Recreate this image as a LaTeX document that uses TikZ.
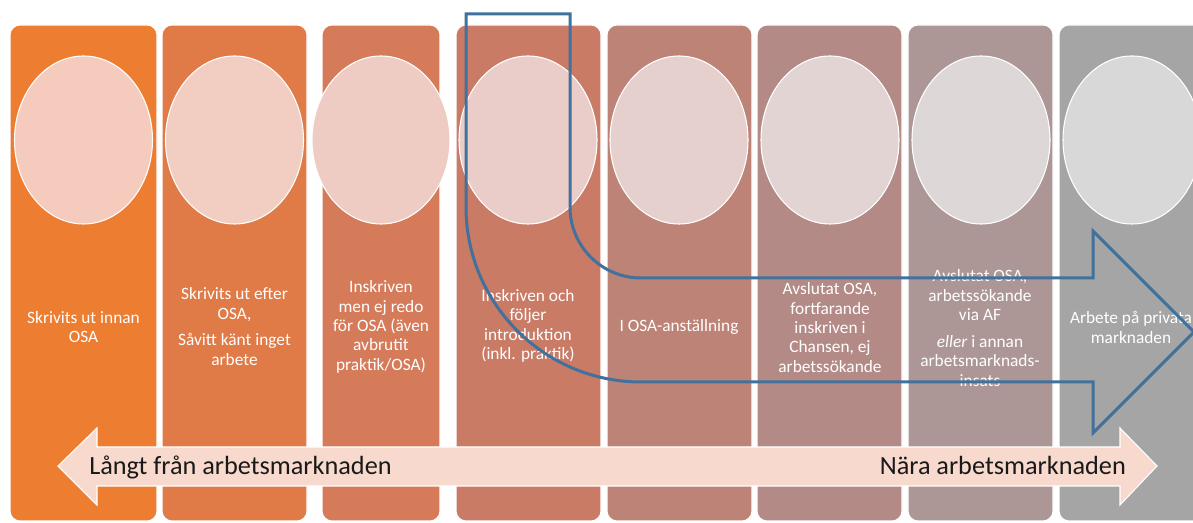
\documentclass[tikz,border=0pt]{standalone}
\usepackage{fontspec}
\setmainfont{Carlito}
\definecolor{stepA}{HTML}{ED7D31}
\definecolor{stepB}{HTML}{E07A47}
\definecolor{stepC}{HTML}{D57B59}
\definecolor{stepD}{HTML}{C97B66}
\definecolor{stepE}{HTML}{BD8376}
\definecolor{stepF}{HTML}{B48A87}
\definecolor{stepG}{HTML}{AD9696}
\definecolor{stepH}{HTML}{A5A5A5}
\definecolor{ovalA}{HTML}{F5CBBD}
\definecolor{ovalB}{HTML}{F2CDC1}
\definecolor{ovalC}{HTML}{EECCC4}
\definecolor{ovalD}{HTML}{EACDC8}
\definecolor{ovalE}{HTML}{E5D0CE}
\definecolor{ovalF}{HTML}{E2D4D3}
\definecolor{ovalG}{HTML}{DED7D7}
\definecolor{ovalH}{HTML}{D8D8D8}
\definecolor{pathblue}{HTML}{41719C}
\definecolor{scalepink}{HTML}{F8D9CD}

\begin{document}
\begin{tikzpicture}[
    x=0.75pt, y=-0.75pt,
    stepcol/.style={draw=white, line width=0.8pt, rounded corners=7.5pt},
    oval/.style={draw=white, line width=0.8pt},
    steptext/.style={text=white, align=center, inner sep=0pt,
                     font=\fontsize{13}{14.5}\selectfont},
    scaletext/.style={text=black!90, inner sep=0pt,
                      font=\fontsize{19.7}{22}\selectfont}]

  \clip (0,0) rectangle (1193,523);
  \fill[white] (0,0) rectangle (1193,523);

  % columns
  \draw[stepcol, fill=stepA] (10,25)   rectangle (157,521);
  \draw[stepcol, fill=stepB] (162,25)  rectangle (307,521);
  \draw[stepcol, fill=stepC] (322,25)  rectangle (440,521);
  \draw[stepcol, fill=stepD] (456,25)  rectangle (601,521);
  \draw[stepcol, fill=stepE] (607,25)  rectangle (752,521);
  \draw[stepcol, fill=stepF] (757,25)  rectangle (902,521);
  \draw[stepcol, fill=stepG] (908,25)  rectangle (1053,521);
  \draw[stepcol, fill=stepH] (1059,25) rectangle (1204,521);

  % empty circles
  \draw[oval, fill=ovalA] (83.5,140)  ellipse [x radius=69, y radius=84];
  \draw[oval, fill=ovalB] (234.5,140) ellipse [x radius=69, y radius=84];
  \draw[oval, fill=ovalC] (381,140)   ellipse [x radius=69, y radius=84];
  \draw[oval, fill=ovalD] (528,140)   ellipse [x radius=69, y radius=84];
  \draw[oval, fill=ovalE] (679,140)   ellipse [x radius=69, y radius=84];
  \draw[oval, fill=ovalF] (830,140)   ellipse [x radius=69, y radius=84];
  \draw[oval, fill=ovalG] (981,140)   ellipse [x radius=69, y radius=84];
  \draw[oval, fill=ovalH] (1132,140)  ellipse [x radius=69, y radius=84];

  % column texts
  \node[steptext] (utinnan) at (83.5,327) {Skrivits ut innan\\OSA};
  \node[steptext] (utefter) at (234.5,326.5)
       {Skrivits ut efter\\OSA,\\[5.6pt]Såvitt känt inget\\arbete};
  \node[steptext] (ejredo) at (381,327)
       {Inskriven\\men ej redo\\för OSA (även\\avbrutit\\praktik/OSA)};
  \node[steptext] (intro) at (528,326)
       {Inskriven och\\följer\\introduktion\\(inkl. praktik)};
  \node[steptext] (anst) at (679,327) {I OSA-anställning};
  \node[steptext] (chansen) at (830,327.5)
       {Avslutat OSA,\\fortfarande\\inskriven i\\Chansen, ej\\arbetssökande};
  \node[steptext] (viaaf) at (980,328)
       {Avslutat OSA,\\arbetssökande\\via AF\\[5.6pt]\textit{eller} i annan\\arbetsmarknads-\\insats};
  \node[steptext] (privat) at (1131,327.5) {Arbete på privata\\marknaden};

  % scale arrow at the bottom
  \draw[draw=white, line width=0.8pt, fill=scalepink]
       (58,466) -- (97,428) -- (97,447) -- (1120,447) -- (1120,428)
       -- (1157,466) -- (1120,505) -- (1120,486) -- (97,486) -- (97,505) -- cycle;
  \node[scaletext, anchor=base west] (langt) at (89,475) {Långt från arbetsmarknaden};
  \node[scaletext, anchor=base east] (nara) at (1126,475) {Nära arbetsmarknaden};

  % bent arrow
  \draw[pathblue, line width=2.25pt, line join=miter]
       (466,14) -- (570,14) -- (570,207) arc[start angle=180, end angle=90, radius=71]
       -- (1093,278) -- (1093,231) -- (1194,332) -- (1093,433) -- (1093,382)
       -- (641,382) arc[start angle=90, end angle=180, radius=175] -- cycle;
\end{tikzpicture}
\end{document}
